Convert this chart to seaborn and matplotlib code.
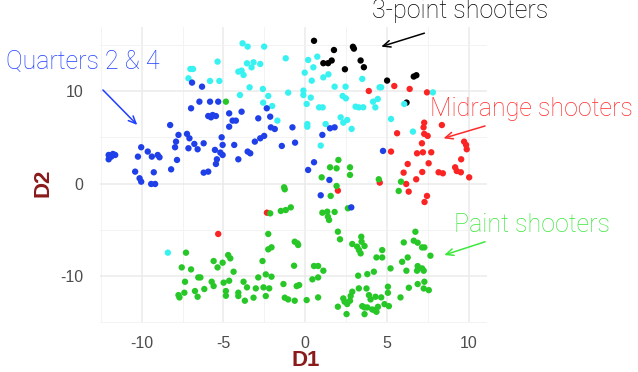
import matplotlib
matplotlib.use("Agg")
import matplotlib.pyplot as plt
import numpy as np
import pandas as pd
import seaborn as sns
from matplotlib.ticker import MultipleLocator

# ---------------- data ----------------
black_x = [0.54, 1.76, 2.92, 2.98, 1.11, 1.40, 1.62, 3.39, 3.59, 2.43, 5.01, 6.64, 6.80, 6.20]
black_y = [15.5, 14.5, 14.85, 14.65, 13.07, 13.07, 13.36, 13.36, 12.63, 12.41, 11.18, 11.62, 11.76, 8.79]

cyan_x = [-7.02, -6.86, -7.14, -5.36, -5.82, -5.25,
          -3.83, -3.52, -2.51, -1.19, -3.56, -3.16, -3.28, -2.75, -4.09, -3.89, -3.77,
          0.18, 0.74, 0.50, -0.03, 0.40, 1.11, 1.42,
          -3.40, -2.59, -3.99, -2.26, -1.04, -0.11, -0.11, 0.34, 0.09, -2.57, -2.02, -1.70,
          0.85, 1.07, 1.80, 2.29, 2.49, 2.47, 3.08, 3.28, 3.55, 2.17, 2.57, 2.33, 0.13, 0.13,
          1.25, 2.84, 0.95,
          3.49, 4.55, 4.65, 7.81, 4.15, 4.44, 4.29, 6.06, 5.25, 6.59, -8.40]
cyan_y = [12.44, 12.44, 11.43, 13.24, 11.14, 11.14,
          15.23, 14.87, 14.87, 13.60, 13.06, 13.17, 12.62, 12.98, 12.15, 12.26, 11.79,
          13.42, 13.78, 12.62, 12.04, 11.17, 11.53, 11.86,
          10.45, 10.27, 9.61, 9.51, 9.87, 10.09, 9.61, 9.33, 8.64, 8.78, 8.42, 6.83,
          8.27, 8.27, 10.52, 9.51, 9.25, 10.52, 8.35, 8.27, 8.28, 7.19, 6.90, 6.61, 6.46, 6.17,
          6.46, 5.93, 4.12,
          11.36, 10.45, 10.45, 9.90, 8.89, 9.18, 8.27, 8.64, 7.01, 5.64, -7.51]

blue_x = [-6.92, -6.31, -6.47, -5.82, -5.32, -6.98, -5.93, -5.66, -5.46, -5.76, -4.65, -4.65, -8.26,
          -3.89, -4.44, -4.24, -2.35, -2.14, -2.87, -2.10, -1.86, -0.78, 1.52, 1.80, 1.05,
          -12.02, -11.86, -11.62, -12.02, -11.76, -10.03, -9.63, -10.23, -9.38, -9.02, -8.91,
          -10.40, -10.13, -10.03, -9.26, -9.42, -9.18, -8.20, -7.84, -7.96, -7.90, -7.75, -7.23,
          -7.08, -7.14, -6.78, -6.58, -6.21, -6.21, -5.93, -5.52, -5.19, -5.05, -5.40, -5.46,
          -5.11, -5.05,
          -4.34, -4.09, -3.52, -3.36, -3.08, -2.75, -2.51, -1.43, -0.62, 0.54, 0.18, 1.48, 0.95,
          2.82, 4.76]
blue_y = [10.96, 10.52, 8.89, 8.89, 8.89, 8.17, 7.33, 7.44, 7.33, 7.19, 7.62, 6.17, 6.35,
          7.80, 6.83, 6.83, 8.17, 7.26, 7.08, 6.10, 5.92, 6.10, 6.00, 6.10, 5.28,
          3.10, 2.92, 3.10, 2.63, 3.21, 3.94, 3.47, 2.92, 2.92, 3.10, 2.85,
          1.29, 0.57, 0.20, 1.22, -0.05, -0.05, 1.54, 2.56, 3.94, 4.55, 5.28, 5.39,
          4.91, 3.83, 4.30, 3.72, 4.37, 1.18, 1.29, 3.65, 3.36, 3.10, 2.63, 2.12,
          5.02, 4.19,
          4.19, 2.63, 3.47, 3.28, 4.55, 4.91, 5.17, 4.08, 4.44, 2.31, 1.47, 0.39, -1.28,
          -2.59, 3.54]

red_x = [3.89, 5.45, 6.39, 7.45, 7.28, 7.24, 8.36,
         5.62, 7.28, 7.49, 7.14, 9.72, 9.84, 9.88, 5.25, 6.84, 7.20, 7.71, 9.54, 6.27, 7.55,
         6.02, 7.16, 8.16, 8.42, 9.17, 9.27, 9.52, 10.03, 6.79, 4.56, 6.18, 6.33, 7.45, 7.30,
         2.00, -2.34, -5.32]
red_y = [10.05, 10.59, 10.27, 9.90, 6.61, 6.10, 6.35,
         5.46, 5.39, 5.17, 4.37, 4.55, 4.19, 3.72, 3.47, 3.28, 3.39, 3.39, 2.63, 2.12, 2.20,
         1.18, 1.25, 1.22, 1.11, 1.76, 1.36, 1.22, 0.67, 0.46, 0.10, -0.05, -0.88, -1.35, -2.01,
         -0.77, -3.17, -5.48]

green_x = [-4.85,
           2.03, 1.52, 1.92, 2.74, 2.74, 1.01, -1.29, -1.25, 1.92, 1.56, 2.61, -2.14, -1.49,
           -1.19, -0.88, 1.05, 1.35, 1.80, 1.39, 1.46,
           4.50, 5.86, 5.72,
           -2.26, -2.26, -2.06, -0.64, -0.47, -0.43, -2.61, -0.68, -4.38, 0.54, 0.79, 1.11,
           0.44, 0.79, 2.00, 2.13, 2.88, 3.18, 3.29, 3.24, 3.28, -3.77, -3.56, -4.09, -4.09,
           -3.69, -3.16, -2.87, -2.41, -2.06, -3.02, -2.55, -2.20, -2.41, -1.33, -1.25, -1.04,
           -0.64, -0.52, -0.37, 0.09, 0.79, 2.00, 2.33, 2.41, 2.57, 2.74, 2.88, 2.78, 2.53,
           -7.29, -7.55, -6.98, -5.60, -5.36, -5.05, -4.71, -4.58, -7.35, -6.54, -6.41, -7.75,
           -7.69, -7.39, -6.74, -6.58, -6.17, -5.72, -5.60, -4.99, -4.85, -4.85, -4.65,
           3.43, 3.45, 3.63, 3.39, 4.36, 4.71, 4.71, 5.22, 4.20, 3.80, 5.93, 6.27, 6.03, 6.74,
           6.64, 6.88, 7.15, 7.29, 7.66, 6.19, 6.88, 6.84, 7.15, 7.25, 6.88, 7.29, 7.25, 7.56,
           6.34, 5.83, 5.06, 5.06, 3.75, 3.90, 4.00, 4.30, 3.49, 3.63, 3.80, 4.10, 3.63, 4.36,
           4.24, 4.45, 4.65, 4.85, 5.12]
green_y = [8.89,
           2.56, 1.76, 1.65, 1.76, 0.93, 0.67, -0.41, -0.63, -0.27, -1.35, -2.69, -3.24, -2.98,
           -2.88, -2.59, -3.17, -3.06, -3.09, -3.60, -3.96,
           0.46, 0.20, -0.81,
           -5.48, -7.15, -6.93, -6.32, -6.50, -6.68, -8.42, -8.93, -9.58, -8.96, -8.96, -9.47,
           -10.41, -10.20, -5.23, -6.06, -6.57, -6.86, -7.22, -10.01, -11.39, -10.67, -11.28,
           -11.86, -12.22, -12.73, -12.40, -10.20, -9.87, -10.12, -11.39, -11.28, -11.39, -12.22,
           -10.92, -12.40, -12.59, -12.73, -11.14, -11.03, -12.66, -12.37, -13.38, -12.48,
           -12.84, -13.09, -12.73, -11.75, -12.22, -14.18,
           -7.51, -9.11, -9.33, -8.42, -9.11, -8.60, -7.77, -8.13, -10.67, -10.20, -10.20, -12.12,
           -12.37, -11.86, -11.68, -12.30, -11.46, -10.67, -11.14, -10.77, -11.68, -12.19, -10.56,
           -5.78, -6.32, -6.79, -7.59, -8.03, -8.03, -7.23, -9.22, -9.58, -9.84, -8.50, -8.03,
           -6.40, -5.24, -6.21, -6.43, -6.94, -6.94, -7.84, -9.47, -8.97, -9.47, -9.22, -9.47,
           -10.92, -10.67, -11.40, -11.58, -11.32, -12.37, -11.21, -11.87, -11.40, -12.12,
           -12.59, -12.30, -13.32, -13.46, -13.46, -13.68, -14.19, -13.93, -13.75, -13.39,
           -12.37, -13.10, -13.32]

groups = ["Midrange", "3-point", "Paint", "Other", "Quarters"]
palette = {"Midrange": "#fb2424", "3-point": "#000000", "Paint": "#26c726",
           "Other": "#38f2f2", "Quarters": "#1f3fe8"}

frames = []
for name, xs, ys in [("Midrange", red_x, red_y), ("3-point", black_x, black_y),
                     ("Paint", green_x, green_y), ("Other", cyan_x, cyan_y),
                     ("Quarters", blue_x, blue_y)]:
    frames.append(pd.DataFrame({"D1": xs, "D2": ys, "group": name}))
df = pd.concat(frames, ignore_index=True)

# ---------------- figure ----------------
sns.set_theme(style="white")
plt.rcParams['font.family'] = ['Liberation Sans', 'DejaVu Sans']
plt.rcParams['axes.unicode_minus'] = False

fig = plt.figure(figsize=(6.38, 3.72), dpi=100)
ax = fig.add_axes([100 / 638, 1 - 323 / 372, 387 / 638, 296 / 372])

sns.scatterplot(data=df, x="D1", y="D2", hue="group", hue_order=groups, palette=palette,
                s=21, linewidth=0, legend=False, ax=ax, zorder=3)

ax.set_xlim(-12.55, 11.12)
ax.set_ylim(-15.15, 17.0)
ax.xaxis.set_major_locator(MultipleLocator(5))
ax.xaxis.set_minor_locator(MultipleLocator(2.5))
ax.yaxis.set_major_locator(MultipleLocator(10))
ax.yaxis.set_minor_locator(MultipleLocator(5))
ax.grid(which='major', color='#ebebeb', lw=1.1)
ax.grid(which='minor', color='#f3f3f3', lw=0.7)
ax.set_axisbelow(True)
for s in ax.spines.values():
    s.set_visible(False)
ax.tick_params(which='both', length=0, labelsize=11.5, labelcolor='#4d4d4d')
ax.tick_params(axis='x', pad=9)
ax.tick_params(axis='y', pad=12)

ax.set_xlabel("D1", fontsize=16, fontweight='bold', color='#8b1a1a')
ax.set_ylabel("D2", fontsize=16, fontweight='bold', color='#8b1a1a')
ax.xaxis.set_label_coords(0.532, -0.09)
ax.yaxis.set_label_coords(-0.12, 0.475)

# ---------------- annotations ----------------
ann = [
    ("3-point shooters", (9.48, 17.95), (4.65, 14.87), (7.29, 16.33), "#000000"),
    ("Midrange shooters", (13.85, 7.34), (8.46, 4.91), (11.0, 6.25), "#ff2a2a"),
    ("Paint shooters", (13.9, -5.3), (8.5, -7.77), (11.0, -6.33), "#3ce83c"),
    ("Quarters 2 & 4", (-13.6, 12.41), (-10.27, 6.36), (-12.37, 10.16), "#1f3fff"),
]
for label, tpos, head, tail, col in ann:
    ax.text(tpos[0], tpos[1], label, color=col, fontsize=18, ha='center', va='baseline',
            clip_on=False, family=['Roboto', 'Liberation Sans', 'DejaVu Sans'],
            fontweight='light')
    ax.annotate("", xy=head, xytext=tail, annotation_clip=False,
                arrowprops=dict(arrowstyle='->,head_length=0.45,head_width=0.2',
                                color=col, lw=1.1, shrinkA=0, shrinkB=0))

fig.savefig("out.png", dpi=100)
